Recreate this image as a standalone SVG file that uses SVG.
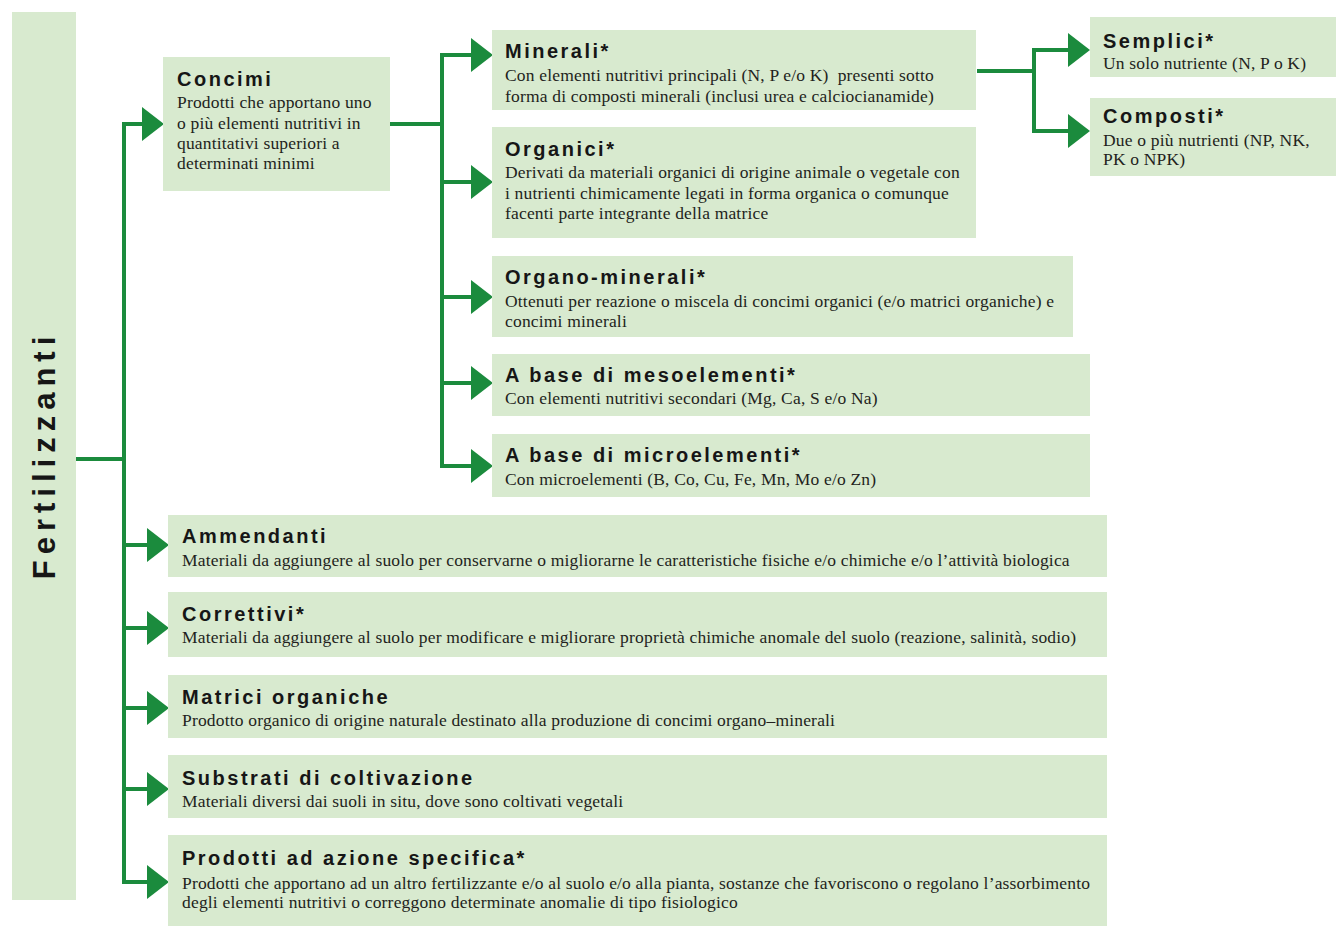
<svg xmlns="http://www.w3.org/2000/svg" width="1336" height="926" viewBox="0 0 1336 926">
<defs>
<style>
.box{fill:#d8eacf}
.t{font-family:"Liberation Sans",Arial,sans-serif;font-weight:bold;font-size:20px;letter-spacing:2.5px;fill:#161616}
.b{font-family:"Liberation Serif","Times New Roman",serif;font-size:17.5px;letter-spacing:0.18px;fill:#231f20}
.c{fill:none;stroke:#1b8b3d;stroke-width:4}
</style>
<marker id="ah" markerUnits="userSpaceOnUse" markerWidth="22" markerHeight="36" viewBox="0 0 22 36" refX="0" refY="18" orient="auto">
<path d="M0,1 L22,18 L0,35 Z" fill="#1b8b3d"/>
</marker>
</defs>
<rect width="1336" height="926" fill="#ffffff"/>

<g id="connectors">
<path class="c" d="M76,459 H124"/>
<path class="c" d="M124,122 V884"/>
<path class="c" d="M122,124 H142" marker-end="url(#ah)"/>
<path class="c" d="M122,545 H147" marker-end="url(#ah)"/>
<path class="c" d="M122,628 H147" marker-end="url(#ah)"/>
<path class="c" d="M122,708 H147" marker-end="url(#ah)"/>
<path class="c" d="M122,789 H147" marker-end="url(#ah)"/>
<path class="c" d="M122,882 H147" marker-end="url(#ah)"/>
<path class="c" d="M390,124 H442"/>
<path class="c" d="M442,53 V468"/>
<path class="c" d="M440,55 H471" marker-end="url(#ah)"/>
<path class="c" d="M440,182 H471" marker-end="url(#ah)"/>
<path class="c" d="M440,297 H471" marker-end="url(#ah)"/>
<path class="c" d="M440,383 H471" marker-end="url(#ah)"/>
<path class="c" d="M440,466 H471" marker-end="url(#ah)"/>
<path class="c" d="M977,71 H1034"/>
<path class="c" d="M1034,48 V133"/>
<path class="c" d="M1032,50 H1068" marker-end="url(#ah)"/>
<path class="c" d="M1032,131 H1068" marker-end="url(#ah)"/>
</g>

<g id="fertilizzanti">
<rect class="box" x="12" y="12" width="64" height="888"/>
<text transform="translate(55,455) rotate(-90)" text-anchor="middle" font-family="'Liberation Sans',Arial,sans-serif" font-weight="bold" font-size="31" letter-spacing="6" fill="#161616">Fertilizzanti</text>
</g>

<g id="concimi">
<rect class="box" x="163" y="57" width="227" height="134"/>
<text class="t" x="177" y="86">Concimi</text>
<text class="b" x="177" y="108">Prodotti che apportano uno</text>
<text class="b" x="177" y="129">o più elementi nutritivi in</text>
<text class="b" x="177" y="149">quantitativi superiori a</text>
<text class="b" x="177" y="169">determinati minimi</text>
</g>

<g id="minerali">
<rect class="box" x="492" y="30" width="484" height="80"/>
<text class="t" x="505" y="58">Minerali*</text>
<text class="b" x="505" y="81" xml:space="preserve">Con elementi nutritivi principali (N, P e/o K)  presenti sotto</text>
<text class="b" x="505" y="102">forma di composti minerali (inclusi urea e calciocianamide)</text>
</g>

<g id="organici">
<rect class="box" x="492" y="127" width="484" height="111"/>
<text class="t" x="505" y="156">Organici*</text>
<text class="b" x="505" y="178">Derivati da materiali organici di origine animale o vegetale con</text>
<text class="b" x="505" y="199">i nutrienti chimicamente legati in forma organica o comunque</text>
<text class="b" x="505" y="219">facenti parte integrante della matrice</text>
</g>

<g id="organo-minerali">
<rect class="box" x="492" y="256" width="581" height="81"/>
<text class="t" x="505" y="284">Organo-minerali*</text>
<text class="b" x="505" y="307">Ottenuti per reazione o miscela di concimi organici (e/o matrici organiche) e</text>
<text class="b" x="505" y="327">concimi minerali</text>
</g>

<g id="mesoelementi">
<rect class="box" x="492" y="354" width="598" height="62"/>
<text class="t" x="505" y="382">A base di mesoelementi*</text>
<text class="b" x="505" y="404">Con elementi nutritivi secondari (Mg, Ca, S e/o Na)</text>
</g>

<g id="microelementi">
<rect class="box" x="492" y="434" width="598" height="63"/>
<text class="t" x="505" y="462">A base di microelementi*</text>
<text class="b" x="505" y="485">Con microelementi (B, Co, Cu, Fe, Mn, Mo e/o Zn)</text>
</g>

<g id="semplici">
<rect class="box" x="1090" y="17" width="246" height="60"/>
<text class="t" x="1103" y="48">Semplici*</text>
<text class="b" x="1103" y="69">Un solo nutriente (N, P o K)</text>
</g>

<g id="composti">
<rect class="box" x="1090" y="98" width="246" height="78"/>
<text class="t" x="1103" y="123">Composti*</text>
<text class="b" x="1103" y="146">Due o più nutrienti (NP, NK,</text>
<text class="b" x="1103" y="165">PK o NPK)</text>
</g>

<g id="ammendanti">
<rect class="box" x="168" y="515" width="939" height="62"/>
<text class="t" x="182" y="543">Ammendanti</text>
<text class="b" x="182" y="566">Materiali da aggiungere al suolo per conservarne o migliorarne le caratteristiche fisiche e/o chimiche e/o l’attività biologica</text>
</g>

<g id="correttivi">
<rect class="box" x="168" y="592" width="939" height="65"/>
<text class="t" x="182" y="621">Correttivi*</text>
<text class="b" x="182" y="643">Materiali da aggiungere al suolo per modificare e migliorare proprietà chimiche anomale del suolo (reazione, salinità, sodio)</text>
</g>

<g id="matrici">
<rect class="box" x="168" y="675" width="939" height="63"/>
<text class="t" x="182" y="704">Matrici organiche</text>
<text class="b" x="182" y="726">Prodotto organico di origine naturale destinato alla produzione di concimi  organo–minerali</text>
</g>

<g id="substrati">
<rect class="box" x="168" y="755" width="939" height="63"/>
<text class="t" x="182" y="785">Substrati di coltivazione</text>
<text class="b" x="182" y="807">Materiali diversi dai suoli in situ, dove sono coltivati vegetali</text>
</g>

<g id="prodotti">
<rect class="box" x="168" y="835" width="939" height="91"/>
<text class="t" x="182" y="865">Prodotti ad azione specifica*</text>
<text class="b" x="182" y="889">Prodotti che apportano ad un altro fertilizzante e/o al suolo e/o alla pianta, sostanze che favoriscono o regolano l’assorbimento</text>
<text class="b" x="182" y="908">degli elementi nutritivi o correggono determinate anomalie di tipo fisiologico</text>
</g>
</svg>
